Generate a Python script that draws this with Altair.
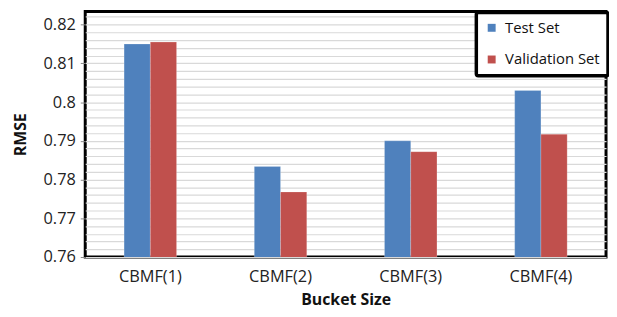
import altair as alt
import pandas as pd

categories = ["CBMF(1)", "CBMF(2)", "CBMF(3)", "CBMF(4)"]
series = ["Test Set", "Validation Set"]
test_set = [0.8150, 0.7834, 0.7900, 0.8030]
validation_set = [0.8155, 0.7768, 0.7872, 0.7917]
colors = ["#4F81BD", "#C0504D"]
y_min, y_max = 0.76, 0.8234
grid_values = [round(0.76 + 0.002 * i, 3) for i in range(32)]

rows = []
for c, t, v in zip(categories, test_set, validation_set):
    rows.append({"cat": c, "series": series[0], "rmse": t})
    rows.append({"cat": c, "series": series[1], "rmse": v})
df = pd.DataFrame(rows)

major = "abs(datum.value*100 - round(datum.value*100)) < 0.01"
FONT = "Open Sans"

chart = alt.Chart(df).mark_bar(clip=True, stroke="#ffffff", strokeWidth=0.4, strokeOpacity=0.5).encode(
    x=alt.X("cat:N", sort=categories,
            scale=alt.Scale(paddingInner=0.597, paddingOuter=0.2985),
            axis=alt.Axis(title="Bucket Size", labelAngle=0, ticks=False, domain=False,
                          labelPadding=12, titlePadding=6, labelFontSize=16.5,
                          labelColor="#222222", titleFontSize=16, titleFontWeight="bold",
                          titleColor="#111111", labelFont=FONT, titleFont=FONT)),
    xOffset=alt.XOffset("series:N", sort=series, scale=alt.Scale(paddingInner=0, paddingOuter=0)),
    y=alt.Y("rmse:Q", scale=alt.Scale(domain=[y_min, y_max], zero=False, nice=False),
            axis=alt.Axis(title="RMSE", values=grid_values,
                          labelExpr=f"{major} ? format(datum.value, '.2~f') : ''",
                          tickOpacity={"condition": {"test": major, "value": 1}, "value": 0},
                          tickSize=5, tickColor="#868686", domain=False,
                          grid=True, gridColor="#d9d9d9", gridWidth=1.2,
                          labelPadding=5, titlePadding=15, labelFontSize=16.5,
                          labelColor="#222222", titleFontSize=16, titleFontWeight="bold",
                          titleColor="#111111", labelFont=FONT, titleFont=FONT)),
    color=alt.Color("series:N", sort=series,
                    scale=alt.Scale(domain=series, range=colors),
                    legend=alt.Legend(title=None, orient="none", legendX=395, legendY=1,
                                      symbolType="square", symbolSize=64,
                                      symbolStrokeWidth=0, labelFontSize=15,
                                      labelFont=FONT, labelColor="#111111",
                                      labelOffset=6, rowPadding=16, padding=8,
                                      fillColor="#ffffff", strokeColor="#000000",
                                      cornerRadius=2)),
).properties(
    width=526, height=248,
    autosize=alt.AutoSizeParams(type="none"),
    padding={"left": 78, "top": 2, "right": 3, "bottom": 51},
).configure_view(
    stroke="#000000", strokeWidth=3
).configure_legend(
    strokeWidth=3.5
)

chart.save("out.html", embed_options={"renderer": "svg", "actions": False})
